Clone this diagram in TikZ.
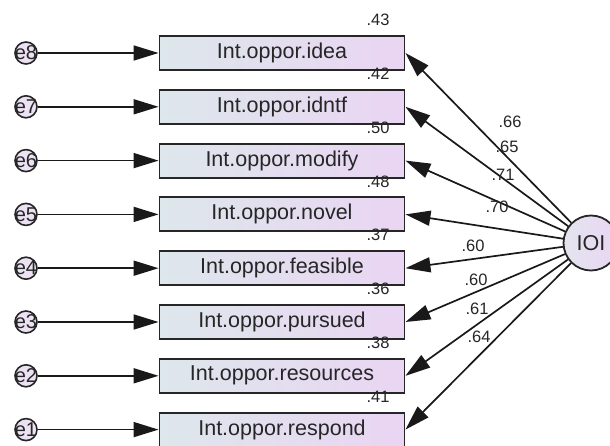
\documentclass[tikz,border=0pt]{standalone}
\usepackage{fontspec}
\setmainfont{Liberation Sans}
\usetikzlibrary{arrows.meta}
\definecolor{caixaesq}{HTML}{DDE7EC}
\definecolor{caixadir}{HTML}{EAD5F3}
\definecolor{lilas}{HTML}{ECE2F3}
\tikzset{
  obs/.style={draw=black!85, line width=1.9pt, left color=caixaesq, right color=caixadir,
    minimum width=245pt, minimum height=34pt, inner sep=0pt,
    font=\fontsize{21.5}{21.5}\selectfont, text=black!85},
  erro/.style={circle, draw=black!85, line width=1.6pt, fill=lilas, minimum size=22pt,
    inner sep=0pt, font=\fontsize{20}{20}\selectfont, text=black!85},
  seta/.style={-{Triangle[length=25pt,width=15pt]}, line width=1.7pt, black!90},
  coef/.style={font=\fontsize{16.5}{16.5}\selectfont, text=black!85, inner sep=0pt}
}
\begin{document}
\begin{tikzpicture}[x=1pt, y=-1pt]
  \useasboundingbox (0,0) rectangle (610,446);
  % Variavel latente
  \node[circle, draw=black!85, line width=1.8pt, minimum size=55pt, inner sep=0pt,
    left color=caixaesq!60!lilas, right color=caixadir,
    font=\fontsize{21.5}{21.5}\selectfont, text=black!85] (ioi) at (591,243) {IOI};
  % Indicadores, erros e cargas
  \foreach \nome/\eid/\rsq/\carga/\cx/\cy [count=\i from 0] in {
      idea/e8/.43/.66/510/122, idntf/e7/.42/.65/507/147,
      modify/e6/.50/.71/503/175, novel/e5/.48/.70/497/207,
      feasible/e4/.37/.60/473/246, pursued/e3/.36/.60/476/280,
      resources/e2/.38/.61/477/309, respond/e1/.41/.64/479/337} {
    \node[obs] (b\i) at (282, {53+53.8*\i}) {Int.oppor.\nome};
    \node[erro] (e\i) at (26, {53+53.8*\i}) {\makebox[0pt]{\eid}};
    \node[coef] (r\i) at (378, {20+53.8*\i}) {\rsq};
    \draw[seta] (e\i) -- (b\i);
    \draw[seta] (ioi) -- (b\i.east);
    \node[coef] (w\i) at (\cx,\cy) {\carga};
  }
\end{tikzpicture}
\end{document}
